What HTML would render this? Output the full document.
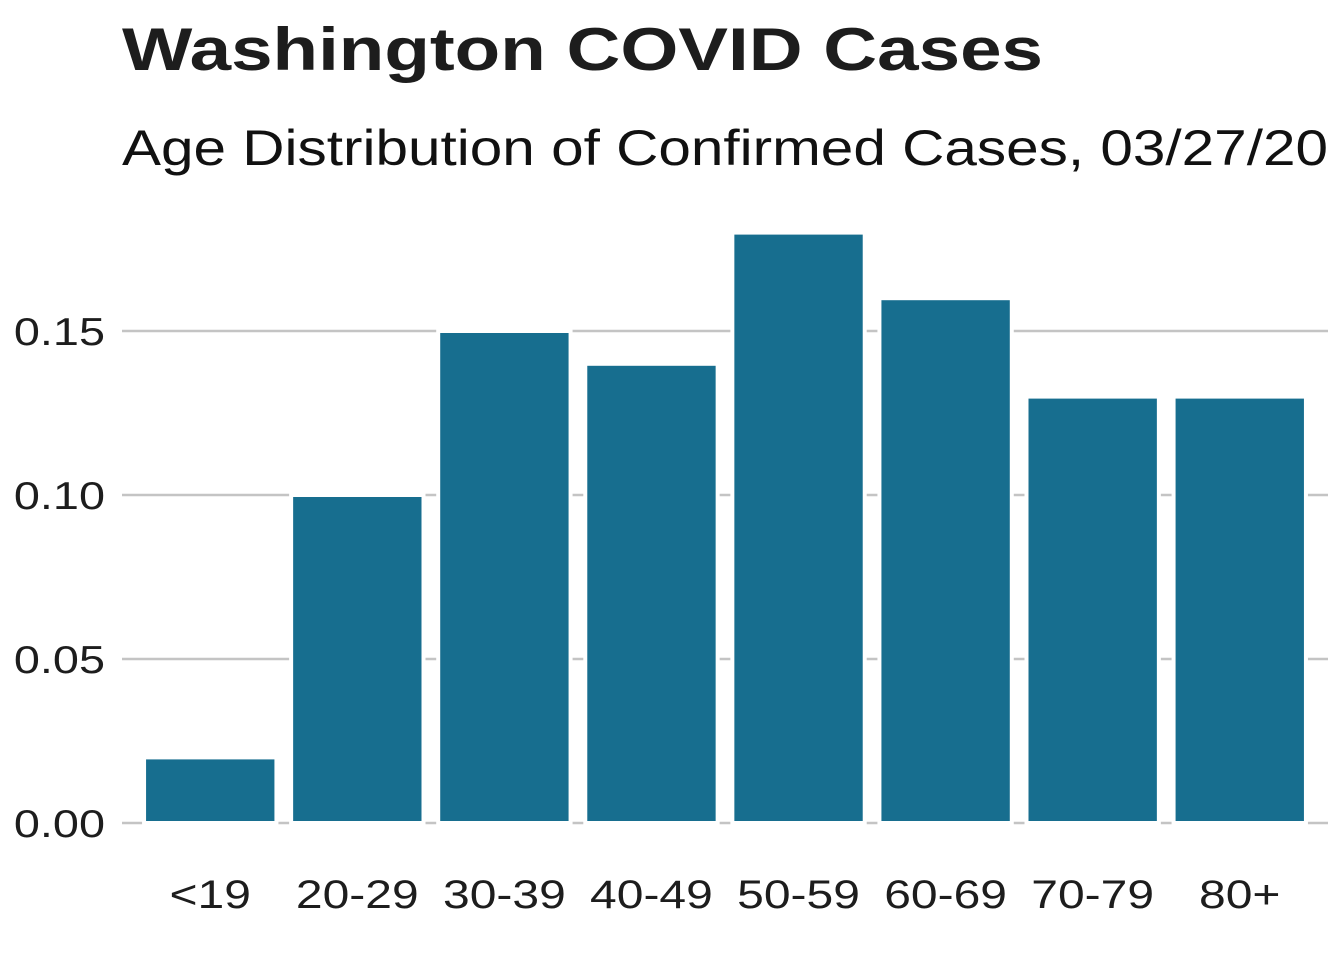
<!DOCTYPE html>
<html><head><meta charset="utf-8"><style>
body{margin:0;background:#fff;}
svg{display:block;font-family:"Liberation Sans",Arial,sans-serif;}
</style></head><body>
<svg id="chart" width="1344" height="960">
<text x="122" y="70" font-size="60" font-weight="bold" fill="#1d1d1d" textLength="921" lengthAdjust="spacingAndGlyphs">Washington COVID Cases</text>
<text x="122" y="165" font-size="50" fill="#111" textLength="1206" lengthAdjust="spacingAndGlyphs">Age Distribution of Confirmed Cases, 03/27/20</text>
<g id="grid"></g><g id="bars"></g><g id="ylabels"></g><g id="xlabels"></g>
</svg>
<script>
const categories=["<19","20-29","30-39","40-49","50-59","60-69","70-79","80+"];
const values=[0.02,0.10,0.15,0.14,0.18,0.16,0.13,0.13];
const yTicks=[0,0.05,0.10,0.15];
const yTickLabels=["0.00","0.05","0.10","0.15"];
const NS="http://www.w3.org/2000/svg";
const x0=122,x1=1328,y0=823,pxPerUnit=3280;
const step=(x1-x0)/(categories.length+0.2);
function xc(i){return x0+(i+0.6)*step;}
function y(v){return y0-v*pxPerUnit;}
function mk(t,a){const e=document.createElementNS(NS,t);for(const k in a)e.setAttribute(k,a[k]);return e;}
function stretch(el,r){const L=el.getComputedTextLength();el.setAttribute('textLength',L*r);el.setAttribute('lengthAdjust','spacingAndGlyphs');}
const grid=document.getElementById('grid'),bars=document.getElementById('bars'),yl=document.getElementById('ylabels'),xl=document.getElementById('xlabels');
yTicks.forEach((t,i)=>{
 const l=mk('line',{x1:x0,x2:x1,y1:y(t),y2:y(t),stroke:'#c4c4c4','stroke-width':2.5});
 
 
 grid.appendChild(l);
 const tx=mk('text',{x:105,y:y(t)+14,'text-anchor':'end','font-size':39,fill:'#1d1d1d'});
 tx.textContent=yTickLabels[i];
 
 
 yl.appendChild(tx);
 stretch(tx,1.2);
});
const bw=step*0.9;
values.forEach((v,i)=>{
 const r=mk('rect',{x:xc(i)-bw/2,y:y(v),width:bw,height:y0-y(v),fill:'#176e8f',stroke:'#fff','stroke-width':4});
 
 
 bars.appendChild(r);
 const tx=mk('text',{x:xc(i),y:908,'text-anchor':'middle','font-size':40,fill:'#1d1d1d'});
 tx.textContent=categories[i];
 
 
 xl.appendChild(tx);
 stretch(tx,1.2);
});
</script>
</body></html>
